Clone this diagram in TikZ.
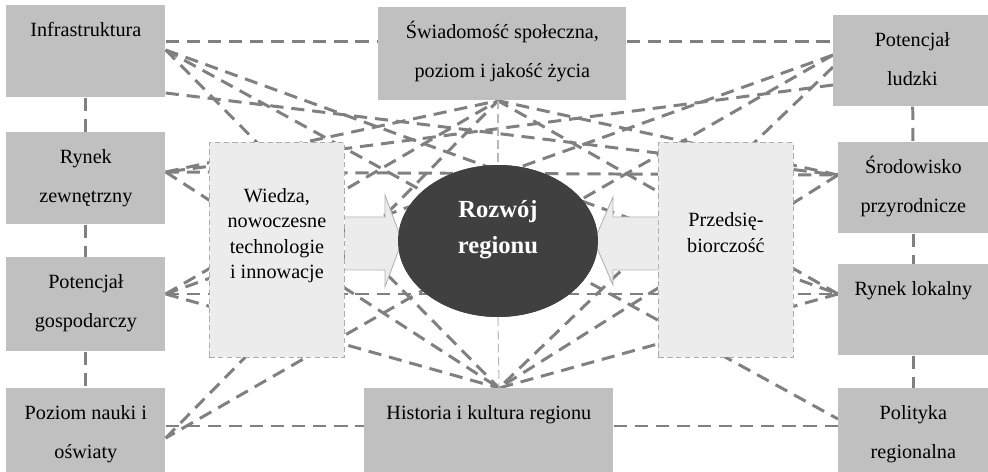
\documentclass[tikz,border=0pt]{standalone}
\usepackage{fontspec}
\setmainfont{Liberation Serif}
\usetikzlibrary{calc,shapes.geometric,backgrounds}

\definecolor{boxgray}{RGB}{192,192,192}
\definecolor{panelgray}{RGB}{236,236,236}
\definecolor{linkgray}{RGB}{128,128,128}
\definecolor{coregray}{RGB}{64,64,64}

% one pixel of the sketch
\newlength\pxlen
\setlength\pxlen{0.02cm}
% text hung from the top of a box
\newcommand{\factortext}[3]{\parbox[c][#2\pxlen][t]{#1\pxlen}{\centering\fontsize{11.5}{22.4}\selectfont\vspace*{2pt}\strut#3}}
\newcommand{\paneltext}[2]{\parbox[c][215\pxlen][t]{135\pxlen}{\centering\fontsize{11.5}{14.6}\selectfont\vspace*{#1}\strut#2}}

\begin{document}
\begin{tikzpicture}[x=0.02cm, y=-0.02cm,
    factor/.style={fill=boxgray, inner sep=0pt, anchor=north west},
    panelbox/.style={fill=panelgray, draw=gray!65, line width=0.5pt, dash pattern=on 3pt off 2pt, inner sep=0pt, anchor=north west},
    linkline/.style={draw=linkgray, line width=1.7pt, dash pattern=on 7.5pt off 4.5pt},
    axisline/.style={draw=gray!55, line width=0.6pt, dash pattern=on 5pt off 2.5pt},
    blockarrow/.style={fill=panelgray, draw=gray!60, line width=0.5pt},
    coreshape/.style={ellipse, fill=coregray, minimum width=4cm, minimum height=3.04cm, inner sep=0pt},
    coretext/.style={text=white, font=\fontsize{14}{20.5}\selectfont\bfseries, align=center}]

    \useasboundingbox (0,0) rectangle (988,472);
    \clip (0,0) rectangle (988,472);

    % left column
        \node[factor] (infra) at (6,5) {\factortext{159}{92}{Infrastruktura}};
        \node[factor] (rzew) at (6,132) {\factortext{159}{92}{Rynek\\zewnętrzny}};
        \node[factor] (pgosp) at (6,257) {\factortext{159}{94}{Potencjał\\gospodarczy}};
        \node[factor] (pnauki) at (6,388) {\factortext{159}{92}{Poziom nauki i\\oświaty}};

    % middle row
        \node[factor] (swiad) at (378,7) {\factortext{248}{93}{Świadomość społeczna,\\poziom i jakość życia}};
        \node[factor] (hist) at (364,388) {\factortext{249}{92}{Historia i kultura regionu}};

    % right column
        \node[factor] (pludz) at (833,15) {\factortext{158}{91}{Potencjał\\ludzki}};
        \node[factor] (srod) at (838,142) {\factortext{150}{91}{Środowisko\\przyrodnicze}};
        \node[factor] (rlok) at (838,264) {\factortext{150}{91}{Rynek lokalny}};
        \node[factor] (polit) at (838,388) {\factortext{150}{92}{Polityka\\regionalna}};

    % inner panels
        \node[panelbox] (wiedza) at (209,142) {\paneltext{23.7pt}{Wiedza,\\nowoczesne\\technologie\\i innowacje}};
        \node[panelbox] (przeds) at (658,142) {\paneltext{37.9pt}{Przedsię-\\biorczość}};

    % end points on the boxes
        \coordinate (iA) at ($(infra.north east)+(0,37)$);
        \coordinate (iB) at ($(infra.north east)+(0,45)$);
        \coordinate (iC) at ($(infra.north east)+(0,88)$);
        \coordinate (rA) at ($(rzew.north east)+(0,40)$);
        \coordinate (gA) at ($(pgosp.north east)+(0,37)$);
        \coordinate (nA) at ($(pnauki.north east)+(0,38)$);
        \coordinate (nB) at ($(pnauki.north east)+(0,50)$);
        \coordinate (sL) at ($(swiad.north west)+(0,35)$);
        \coordinate (sR) at ($(swiad.north east)+(0,35)$);
        \coordinate (sB) at ($(swiad.south west)+(120,0)$);
        \coordinate (hL) at ($(hist.north west)+(0,38)$);
        \coordinate (hR) at ($(hist.north east)+(0,38)$);
        \coordinate (hT) at ($(hist.north west)+(135,0)$);
        \coordinate (pA) at ($(pludz.north west)+(0,27)$);
        \coordinate (pB) at ($(pludz.north west)+(0,40)$);
        \coordinate (pC) at ($(pludz.north west)+(0,52)$);
        \coordinate (pD) at ($(pludz.north west)+(0,70)$);
        \coordinate (dA) at ($(srod.north west)+(0,33)$);
        \coordinate (kA) at ($(rlok.north west)+(0,30)$);
        \coordinate (oA) at ($(polit.north west)+(0,38)$);
        \coordinate (oB) at ($(polit.north west)+(0,31)$);

    % core
        \node[coreshape] (core) at (498,241) {};

    % dashed links, behind the panels
    \begin{scope}[on background layer]
        \draw[linkline] (iA) -- (sL);
        \draw[linkline] (sR) -- (pA);
        \draw[linkline] (nA) -- (hL);
        \draw[linkline] (hR) -- (oA);
        \draw[linkline] (infra) -- (rzew);
        \draw[linkline] (rzew) -- (pgosp);
        \draw[linkline] (pgosp) -- (pnauki);
        \draw[linkline] (pludz) -- (srod);
        \draw[linkline] (srod) -- (rlok);
        \draw[linkline] (rlok) -- (polit);
        \foreach \a in {rA, gA, nB, dA, kA}
            \draw[linkline] (\a) -- (sB);
        \foreach \a in {iB, rA, gA, pC, dA, kA}
            \draw[linkline] (\a) -- (hT);
        \draw[linkline] (iB) -- (oB);
        \draw[linkline] (iB) -- (kA);
        \draw[linkline] (iC) -- (dA);
        \draw[linkline] (pB) -- (nB);
        \draw[linkline] (pB) -- (gA);
        \draw[linkline] (pD) -- (rA);
        \draw[linkline] (rA) -- (dA);
        \draw[linkline] (gA) -- (kA);
        \draw[axisline] (sB) -- (core.north);
        \draw[axisline] (core.south) -- (hT);
    \end{scope}

    % block arrows into the core
        \path[blockarrow] (345,217) -- (385,217) -- (385,195) -- (402,241) -- (385,287) -- (385,270) -- (345,270);
        \path[blockarrow] (658,217) -- (613,217) -- (613,197) -- (594,241) -- (613,285) -- (613,270) -- (658,270);

    % core on top
        \node[coreshape] at (core) {};
        \node[coretext] (coreTxt) at (498,230) {Rozwój\\regionu};

\end{tikzpicture}
\end{document}
